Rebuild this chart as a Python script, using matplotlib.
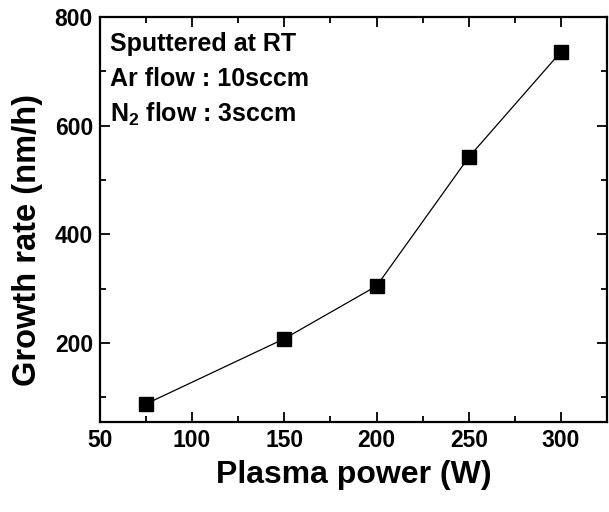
import matplotlib
matplotlib.use("Agg")
import matplotlib.pyplot as plt
from matplotlib.ticker import MultipleLocator

# data
power = [75, 150, 200, 250, 300]
rate = [88, 208, 305, 542, 736]

plt.rcParams['font.family'] = ['Liberation Sans', 'DejaVu Sans']
plt.rcParams['font.weight'] = 'bold'
plt.rcParams['mathtext.fontset'] = 'custom'
plt.rcParams['mathtext.bf'] = 'Liberation Sans:bold'

fig = plt.figure(figsize=(6.09, 5.12), dpi=100)
ax = fig.add_axes([0.164, 0.176, 0.833, 0.791])

ax.plot(power, rate, color='black', lw=0.9, marker='s', ms=9.5,
        mfc='black', mec='black')

ax.set_xlim(50, 325)
ax.set_ylim(55, 800)
ax.xaxis.set_major_locator(MultipleLocator(50))
ax.xaxis.set_minor_locator(MultipleLocator(25))
ax.yaxis.set_major_locator(MultipleLocator(200))
ax.yaxis.set_minor_locator(MultipleLocator(100))

ax.tick_params(which='both', direction='in', top=True, right=True, width=1.3)
ax.tick_params(which='major', length=7, labelsize=16.5, pad=5)
ax.tick_params(which='minor', length=4)
for lab in ax.get_xticklabels() + ax.get_yticklabels():
    lab.set_fontweight('bold')
for s in ax.spines.values():
    s.set_linewidth(1.6)

ax.set_xlabel('Plasma power (W)', fontsize=23, fontweight='bold', labelpad=6)
ax.set_ylabel('Growth rate (nm/h)', fontsize=23.5, fontweight='bold')
ax.yaxis.set_label_coords(-0.113, 0.45)

notes = ['Sputtered at RT', 'Ar flow : 10sccm', r'N$_\mathbf{2}$ flow : 3sccm']
for i, t in enumerate(notes):
    ax.text(0.02, 0.962 - i * 0.085, t, transform=ax.transAxes, fontsize=18,
            fontweight='bold', va='top', ha='left')

fig.savefig('out.png', dpi=100)
